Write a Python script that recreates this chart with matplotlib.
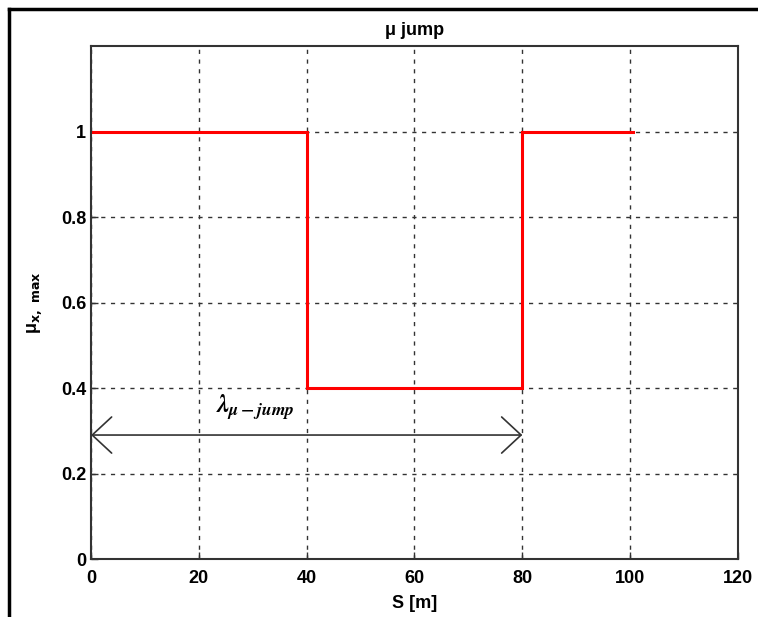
import matplotlib
matplotlib.use("Agg")
import matplotlib.pyplot as plt
from matplotlib.lines import Line2D

# step profile of mu_x,max along S
s = [0, 40, 40, 80, 80, 100.5]
mu = [1, 1, 0.4, 0.4, 1, 1]

# wavelength arrow
arrow_x = [0, 80]
arrow_y = 0.29

xticks = [0, 20, 40, 60, 80, 100, 120]
yticks = [0, 0.2, 0.4, 0.6, 0.8, 1]

plt.rcParams["font.family"] = ["Liberation Sans", "DejaVu Sans"]
plt.rcParams["font.weight"] = "bold"

fig = plt.figure(figsize=(7.58, 6.17), dpi=100)
ax = fig.add_axes([0.12, 0.094, 0.8536, 0.8314])

ax.plot(s, mu, color="red", lw=2.2, solid_joinstyle="miter")

ax.annotate("", xy=(arrow_x[0], arrow_y), xytext=(arrow_x[1], arrow_y),
            arrowprops=dict(arrowstyle="<->,head_length=1.4,head_width=1.3",
                            color="#333333", lw=1.2, shrinkA=0, shrinkB=0))
ax.text(30.5, 0.318, r"$\lambda_{\mu-jump}$", fontsize=18, ha="center", va="bottom",
        math_fontfamily="stix")

ax.set_xlim(0, 120)
ax.set_ylim(0, 1.2)
ax.set_xticks(xticks)
ax.set_yticks(yticks)
ax.set_yticklabels(["0", "0.2", "0.4", "0.6", "0.8", "1"])
ax.tick_params(direction="in", length=5, labelsize=13, width=1, color="#333333")
ax.tick_params(axis="x", pad=8)
ax.grid(True, color="#333333", linestyle=(0, (3, 4)), lw=1)
for sp in ax.spines.values():
    sp.set_color("#333333")
    sp.set_linewidth(1.5)

ax.set_title("μ jump", fontsize=13, fontweight="bold", pad=8)
ax.set_xlabel("S [m]", fontsize=13, fontweight="bold", labelpad=6)
ax.set_ylabel(r"μ$_{\mathbf{x,\ max}}$", fontsize=13, fontweight="bold", labelpad=12)

# outer window frame (left and top edges)
fig.add_artist(Line2D([0.0125, 0.0125], [0, 0.986], color="black", lw=2.5,
                      transform=fig.transFigure))
fig.add_artist(Line2D([0.0125, 1.0], [0.986, 0.986], color="black", lw=2.5,
                      transform=fig.transFigure))

fig.savefig("out.png", dpi=100)
